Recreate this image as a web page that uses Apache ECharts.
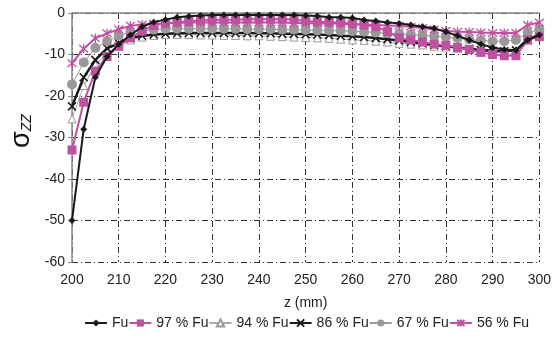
<!DOCTYPE html>
<html><head><meta charset="utf-8">
<script src="https://cdn.jsdelivr.net/npm/echarts@6/dist/echarts.min.js"></script>
<style>html,body{margin:0;padding:0;background:#fff}#c{width:554px;height:341px}</style>
</head><body><div id="c"></div>
<script>
var zPos = [200,202.5,205,207.5,210,212.5,215,217.5,220,222.5,225,227.5,230,232.5,235,237.5,240,242.5,245,247.5,250,252.5,255,257.5,260,262.5,265,267.5,270,272.5,275,277.5,280,282.5,285,287.5,290,292.5,295,297.5,300];
var xTicks = [200,210,220,230,240,250,260,270,280,290,300];
var yTicks = [0,-10,-20,-30,-40,-50,-60];
var seriesNames = ['Fu','97 % Fu','94 % Fu','86 % Fu','67 % Fu','56 % Fu'];
var fu    = [-50,-28,-15.5,-10.5,-7.5,-5.3,-3.3,-2.2,-1.6,-1.0,-0.8,-0.6,-0.5,-0.5,-0.5,-0.5,-0.5,-0.5,-0.5,-0.5,-0.6,-0.7,-1.0,-1.0,-1.2,-1.7,-1.9,-2.3,-2.5,-2.9,-3.3,-3.7,-4.5,-5.5,-6.5,-7.5,-8.3,-8.8,-9.0,-6.5,-5.3];
var fu97  = [-33,-21.5,-14,-10.5,-8,-6,-4.3,-3.0,-2.5,-2.2,-2.0,-1.8,-1.7,-1.6,-1.6,-1.5,-1.5,-1.5,-1.5,-1.6,-1.9,-2.1,-2.2,-2.3,-2.6,-2.9,-3.3,-4.5,-6.0,-6.5,-7.0,-7.5,-7.8,-8.3,-8.8,-9.5,-10.0,-10.3,-10.3,-6.5,-5.7];
var fu94  = [-25.5,-17.5,-12.5,-9.5,-8,-6.5,-5.8,-5.4,-5.2,-5.2,-5.2,-5.3,-5.3,-5.4,-5.4,-5.5,-5.5,-5.6,-5.7,-5.8,-5.9,-6.0,-6.1,-6.3,-6.5,-6.6,-6.8,-7.0,-7.3,-7.5,-7.7,-8.0,-8.2,-8.5,-8.7,-9.0,-9.5,-9.5,-9.0,-6.5,-5.5];
var fu86  = [-22.5,-15.5,-11.3,-8.5,-7.3,-6.0,-5.5,-5.2,-5.0,-4.9,-4.8,-4.8,-4.8,-4.8,-4.8,-4.8,-4.9,-4.9,-5.0,-5.0,-5.1,-5.2,-5.3,-5.5,-5.6,-5.8,-6.0,-6.3,-6.6,-7.0,-7.3,-7.7,-8.0,-8.3,-8.6,-8.9,-9.1,-9.2,-9.0,-6.3,-5.3];
var fu67  = [-17.2,-11.9,-8.4,-6.8,-5.5,-4.6,-4.3,-4.0,-3.8,-3.8,-3.8,-3.8,-3.8,-3.8,-3.8,-3.9,-3.9,-3.9,-4.0,-4.0,-4.1,-4.2,-4.2,-4.3,-4.4,-4.5,-4.7,-4.9,-5.0,-5.2,-5.4,-5.6,-5.8,-6.1,-6.4,-6.6,-6.8,-6.8,-6.5,-4.7,-4.0];
var fu56  = [-12.1,-8.6,-6.1,-4.9,-3.9,-3.1,-2.8,-2.6,-2.5,-2.4,-2.3,-2.3,-2.3,-2.3,-2.3,-2.3,-2.3,-2.3,-2.3,-2.4,-2.4,-2.5,-2.5,-2.6,-2.7,-2.8,-2.9,-3.0,-3.1,-3.3,-3.6,-4.0,-4.3,-4.5,-4.6,-4.7,-4.8,-4.8,-4.8,-2.9,-2.3];

function pairs(v){ return zPos.map(function(z,i){return [z,v[i]];}); }

var xPath = 'path://M0,0L10,10M10,0L0,10';
var starPath = 'path://M0,0L10,10M10,0L0,10M5,-1L5,11';

var chart = echarts.init(document.getElementById('c'), null, {renderer:'canvas'});
var gridDash = [6,3,1,3];
var font = 'Liberation Sans, Arial, sans-serif';
var lbl = {fontFamily:font, fontSize:14, color:'#222'};
chart.setOption({
  animation:false,
  grid:{left:72, right:12, top:13, bottom:79},
  xAxis:[{
    type:'value', min:200, max:300, interval:10,
    axisLine:{show:false}, axisTick:{show:false},
    axisLabel:Object.assign({margin:11, formatter:function(v){return xTicks.indexOf(v)>=0?String(v):'';}}, lbl),
    splitLine:{show:true, lineStyle:{color:'#333', width:1, type:gridDash}},
    name:'z (mm)', nameLocation:'middle', nameGap:34,
    nameTextStyle:lbl
  },{
    type:'value', position:'top', min:200, max:300,
    axisLine:{show:true, lineStyle:{color:'#888', width:1.5}},
    axisTick:{show:false}, axisLabel:{show:false}, splitLine:{show:false}
  }],
  yAxis:{
    type:'value', min:-60, max:0, interval:10,
    axisLine:{show:true, lineStyle:{color:'#888', width:1.5}},
    axisTick:{show:true, length:4, lineStyle:{color:'#888'}},
    axisLabel:Object.assign({margin:7, formatter:function(v){return yTicks.indexOf(v)>=0?String(v):'';}}, lbl),
    splitLine:{show:true, lineStyle:{color:'#333', width:1, type:gridDash}}
  },
  legend:{
    bottom:6, left:79, itemWidth:22, itemHeight:9, itemGap:0,
    textStyle:lbl,
    data:seriesNames
  },
  graphic:[{
    type:'text', x:8, y:148, rotation:Math.PI/2,
    style:{
      text:'{s|σ}{z|ZZ}',
      rich:{
        s:{fontFamily:font, fontSize:27, fill:'#111'},
        z:{fontFamily:font, fontSize:14, fontStyle:'italic', fill:'#111', padding:[12,0,0,0]}
      }
    }
  }],
  series:[
    {name:seriesNames[0], type:'line', data:pairs(fu), z:8, symbol:'diamond', symbolSize:7,
      lineStyle:{color:'#1a1a1a', width:2}, itemStyle:{color:'#1a1a1a'}},
    {name:seriesNames[1], type:'line', data:pairs(fu97), z:7, symbol:'rect', symbolSize:9,
      lineStyle:{color:'#c050a0', width:2}, itemStyle:{color:'#c050a0'}},
    {name:seriesNames[2], type:'line', data:pairs(fu94), z:3, symbol:'triangle', symbolSize:8,
      lineStyle:{color:'#aaaaaa', width:1}, itemStyle:{color:'#ffffff', borderColor:'#999', borderWidth:1}},
    {name:seriesNames[3], type:'line', data:pairs(fu86), z:4, symbol:xPath, symbolSize:8,
      lineStyle:{color:'#1a1a1a', width:2.5}, itemStyle:{color:'none', borderColor:'#1a1a1a', borderWidth:1.5}},
    {name:seriesNames[4], type:'line', data:pairs(fu67), z:5, symbol:'circle', symbolSize:10,
      lineStyle:{color:'#999999', width:1}, itemStyle:{color:'#999999'}},
    {name:seriesNames[5], type:'line', data:pairs(fu56), z:6, symbol:starPath, symbolSize:9,
      lineStyle:{color:'#c050a0', width:2}, itemStyle:{color:'none', borderColor:'#c050a0', borderWidth:1.3}}
  ]
});
</script></body></html>
